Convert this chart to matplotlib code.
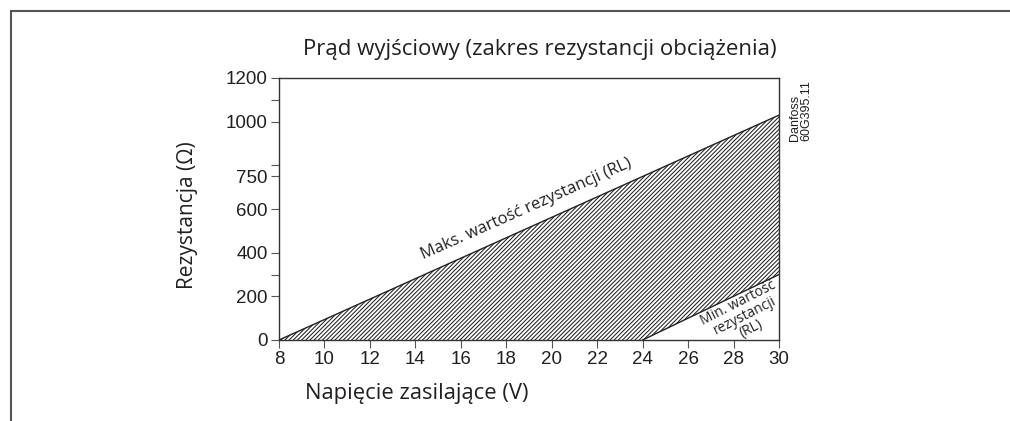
import numpy as np
import matplotlib.pyplot as plt
from matplotlib.lines import Line2D

# supply voltage (V) vs load resistance (ohm)
v_max = [8, 30]
r_max = [0, 1030]
v_min = [24, 30]
r_min = [0, 300]

xticks = [8, 10, 12, 14, 16, 18, 20, 22, 24, 26, 28, 30]
yticks = [0, 200, 400, 600, 750, 1000, 1200]
yminor = [300, 800, 1100]

title = 'Prąd wyjściowy (zakres rezystancji obciążenia)'
xlabel = 'Napięcie zasilające (V)'
ylabel = 'Rezystancja (Ω)'

plt.rcParams['font.family'] = ['Liberation Sans', 'DejaVu Sans']
plt.rcParams['hatch.linewidth'] = 0.75

txt = '#231f20'
W, H = 1010, 421

fig = plt.figure(figsize=(W/100, H/100), dpi=100)
ax = fig.add_axes([279/W, 1-340/H, 500/W, 262/H])

# hatched area between max and min resistance
px = np.r_[v_max, v_min[::-1]]
py = np.r_[r_max, r_min[::-1]]
ax.fill(px, py, facecolor='none', edgecolor='#222222', hatch='/'*8, linewidth=0)
ax.plot(v_max, r_max, color='#222222', lw=1.0)
ax.plot(v_min, r_min, color='#222222', lw=1.0)

ax.set_xlim(8, 30)
ax.set_ylim(0, 1200)
ax.set_xticks(xticks)
ax.set_yticks(yticks)
ax.set_yticks(yminor, minor=True)
for s in ax.spines.values():
	s.set_color('#333333')
	s.set_linewidth(1.0)
ax.tick_params(which='both', direction='out', length=6, width=0.8, color='#555555',
	labelsize=13.5, labelcolor=txt, pad=2)

fig.text(540/W, 1-50/H, title, ha='center', va='center', fontsize=16, color=txt, family='Open Sans')
fig.text(417/W, 1-393/H, xlabel, ha='center', va='center', fontsize=15.8, color=txt, family='Open Sans')
fig.text(188/W, 1-215/H, ylabel, ha='center', va='center', rotation=90, fontsize=15, color=txt, family='Open Sans')

# line annotations
ax.text(18.9, 600, 'Maks. wartość rezystancji (RL)', rotation=24, ha='center', va='center',
	fontsize=12, color=txt, family='Open Sans')
ax.text(28.5, 110, 'Min. wartość\nrezystancji\n(RL)', rotation=27, ha='center', va='center',
	fontsize=10, color=txt, family='Open Sans', multialignment='center', linespacing=0.95)

fig.text(801/W, 1-141/H, 'Danfoss\n60G395.11', rotation=90, ha='center', va='bottom',
	multialignment='left', fontsize=9, color=txt, family=['Liberation Sans Narrow', 'Liberation Sans'],
	linespacing=0.95)

# outer frame (left and top edges)
fig.add_artist(Line2D([11/W, 11/W], [0, 1-11/H], color='#555555', lw=1.5))
fig.add_artist(Line2D([11/W, 1], [1-11/H, 1-11/H], color='#555555', lw=1.5))

fig.savefig('out.png', dpi=100)
